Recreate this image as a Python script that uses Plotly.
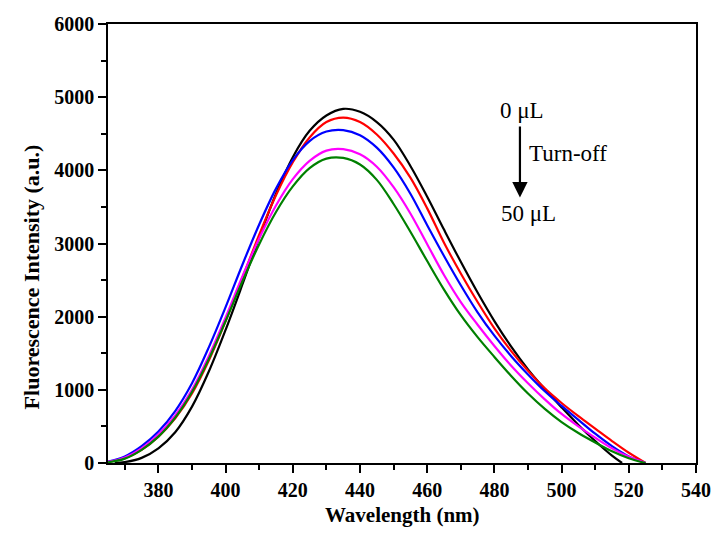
import plotly.graph_objects as go

# Wavelength grid (nm)
wl = [365, 370, 375, 380, 385, 390, 395, 400, 405, 410, 415, 420, 425, 430, 435,
      440, 445, 450, 455, 460, 465, 470, 475, 480, 485, 490, 495, 500, 505, 510,
      515, 520, 525]

# Black: 0 uL (ends ~518 nm)
wl_black = [367, 370, 375, 380, 385, 390, 395, 400, 405, 410, 415, 420, 425, 430, 435,
            440, 445, 450, 455, 460, 465, 470, 475, 480, 485, 490, 495, 500, 505, 510,
            515, 518]
black = [0, 12, 70, 200, 420, 770, 1250, 1820, 2440, 3080, 3680, 4180, 4540, 4750, 4840,
         4800, 4660, 4420, 4060, 3640, 3190, 2750, 2330, 1940, 1590, 1280, 1010, 760, 520, 300,
         100, 0]
red = [15, 65, 180, 360, 610, 950, 1400, 1940, 2530, 3120, 3660, 4110, 4450, 4660, 4720,
       4660, 4490, 4230, 3900, 3480, 3010, 2590, 2200, 1840, 1530, 1260, 1020, 820, 640, 470,
       300, 140, 0]
blue = [20, 90, 230, 430, 710, 1090, 1580, 2130, 2710, 3260, 3750, 4140, 4400, 4530, 4550,
        4480, 4310, 4040, 3680, 3250, 2830, 2430, 2060, 1740, 1460, 1210, 980, 780, 590, 400,
        230, 90, 0]
magenta = [15, 75, 200, 390, 650, 1000, 1460, 1990, 2550, 3070, 3520, 3880, 4130, 4270, 4290,
           4220, 4050, 3770, 3410, 2990, 2570, 2200, 1890, 1600, 1330, 1090, 870, 670, 500, 345,
           200, 85, 0]
green = [10, 60, 180, 360, 620, 970, 1420, 1940, 2480, 2990, 3430, 3780, 4030, 4160, 4170,
         4080, 3870, 3540, 3160, 2760, 2370, 2020, 1720, 1450, 1190, 950, 740, 560, 410, 280,
         160, 65, 0]

x_ticks = [380, 400, 420, 440, 460, 480, 500, 520, 540]
y_ticks = [0, 1000, 2000, 3000, 4000, 5000, 6000]

serif = "Liberation Serif, Times New Roman, serif"

fig = go.Figure()
series = [
    (wl_black, black, "#000000", "0 μL"),
    (wl, red, "#ff0000", "10 μL"),
    (wl, blue, "#0000ff", "20 μL"),
    (wl, magenta, "#ff00ff", "30 μL"),
    (wl, green, "#008000", "50 μL"),
]
for xs, ys, c, name in series:
    fig.add_trace(go.Scatter(x=xs, y=ys, mode="lines", name=name,
                             line=dict(color=c, width=2.2, shape="spline", smoothing=1.0),
                             showlegend=False))

axis_common = dict(
    showgrid=False, zeroline=False, showline=True, linecolor="black", linewidth=1.5,
    mirror=True, ticks="outside", ticklen=8, tickwidth=1.5, tickcolor="black",
    tickfont=dict(family=serif, size=20, color="black", weight="bold"),
)
fig.update_xaxes(range=[365, 540], tickvals=x_ticks,
                 minor=dict(ticks="outside", ticklen=5, tickwidth=1.5, tickcolor="black", dtick=10, tick0=0),
                 **axis_common)
fig.update_yaxes(range=[0, 6000], tickvals=y_ticks,
                 minor=dict(ticks="outside", ticklen=5, tickwidth=1.5, tickcolor="black", dtick=500, tick0=0),
                 **axis_common)

# axis titles
fig.add_annotation(xref="paper", yref="paper", x=0.5, y=-0.118, xanchor="center", yanchor="middle",
                   text="<b>Wavelength (nm)</b>", showarrow=False,
                   font=dict(family=serif, size=21, color="black"))
fig.add_annotation(xref="paper", yref="paper", x=-0.131, y=0.425, xanchor="center", yanchor="middle",
                   text="<b>Fluorescence Intensity (a.u.)</b>", textangle=-90, showarrow=False,
                   font=dict(family=serif, size=22, color="black"))

fig.add_annotation(x=488.3, y=4824, text="0 μL", showarrow=False,
                   font=dict(family=serif, size=23, color="black"))
fig.add_annotation(x=490.0, y=3410, text="50 μL", showarrow=False,
                   font=dict(family=serif, size=23, color="black"))
fig.add_annotation(x=501.8, y=4230, text="Turn-off", showarrow=False,
                   font=dict(family=serif, size=23, color="black"))
fig.add_annotation(x=487.6, y=3630, ax=487.6, ay=4620, xref="x", yref="y", axref="x", ayref="y",
                   text="", showarrow=True, arrowhead=2, arrowsize=1.4, arrowwidth=2.2, arrowcolor="black")

fig.update_layout(width=723, height=536, margin=dict(l=108, r=18, t=24, b=73),
                  paper_bgcolor="white", plot_bgcolor="white")
fig.write_html("out.html")
